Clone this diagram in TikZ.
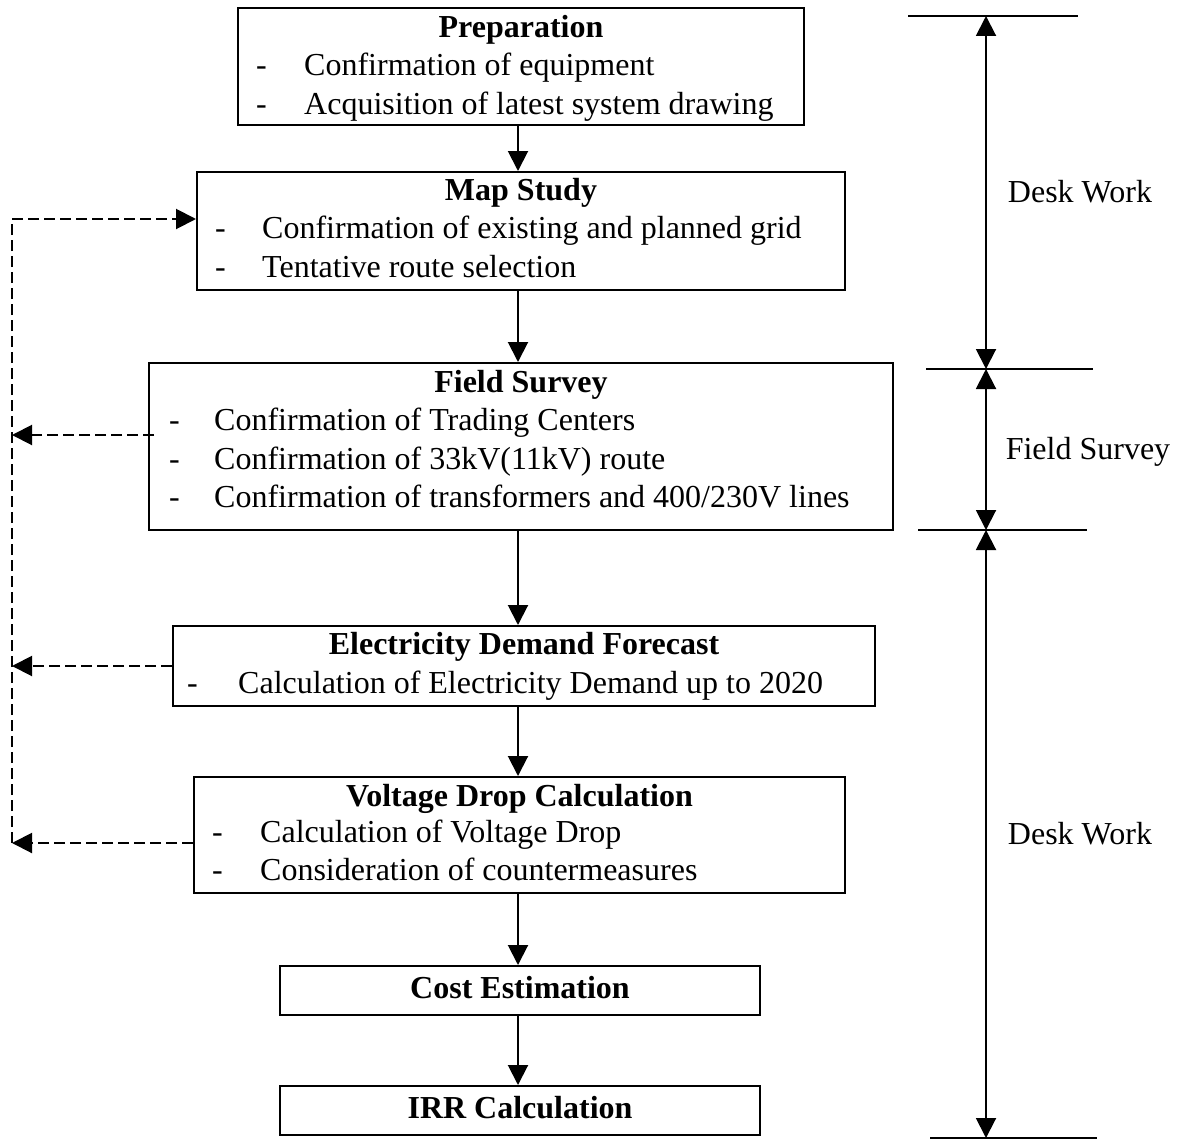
\documentclass[tikz,border=0pt]{standalone}
\usepackage{fontspec}
\setmainfont{Liberation Serif}
\usetikzlibrary{arrows.meta}
\tikzset{
  every node/.style={font=\fontsize{32}{38}\selectfont},
  box/.style={draw, line width=2pt, inner sep=0},
  head/.style={inner sep=0, anchor=base, font=\fontsize{32}{38}\selectfont\bfseries},
  txt/.style={inner sep=0, anchor=base west},
  flow/.style={line width=2pt, -{Triangle[length=20pt,width=20pt]}},
  fb/.style={line width=2pt, dash pattern=on 11pt off 5pt},
  fbarrow/.style={fb, -{Triangle[length=20pt,width=20pt]}},
  span/.style={line width=2pt, {Triangle[length=20pt,width=20pt]}-{Triangle[length=20pt,width=20pt]}},
  tick/.style={line width=2pt}
}

\begin{document}
\begin{tikzpicture}[x=1pt, y=-1pt]
  \useasboundingbox (0,0) rectangle (1183,1140);
  \coordinate (spine) at (518,0);
  % boxes
  \node[box, minimum width=566, minimum height=117] (prep) at (521,66.5) {};
  \node[box, minimum width=648, minimum height=118] (map) at (521,231) {};
  \node[box, minimum width=744, minimum height=167] (field) at (521,446.5) {};
  \node[box, minimum width=702, minimum height=80] (demand) at (524,666) {};
  \node[box, minimum width=651, minimum height=116] (volt) at (519.5,835) {};
  \node[box, minimum width=480, minimum height=49] (cost) at (520,990.5) {};
  \node[box, minimum width=480, minimum height=49] (irr) at (520,1110.5) {};
  % titles
  \node[head] (prep-title) at (prep.center |- 0,38) {Preparation};
  \node[head] (map-title) at (map.center |- 0,200) {Map Study};
  \node[head] (field-title) at (field.center |- 0,392) {Field Survey};
  \node[head] (demand-title) at (demand.center |- 0,654) {Electricity Demand Forecast};
  \node[head] (volt-title) at (volt.center |- 0,806) {Voltage Drop Calculation};
  \node[head] (cost-title) at (cost.center |- 0,998) {Cost Estimation};
  \node[head] (irr-title) at (irr.center |- 0,1118) {IRR Calculation};
  % items
  \foreach \n/\y/\t in {1/76/Confirmation of equipment, 2/114/Acquisition of latest system drawing} {
    \node[txt] (prep-d\n) at (256,\y) {-};
    \node[txt] (prep-\n) at (304,\y) {\t};
  }
  \foreach \n/\y/\t in {1/238/Confirmation of existing and planned grid, 2/277/Tentative route selection} {
    \node[txt] (map-d\n) at (215,\y) {-};
    \node[txt] (map-\n) at (262,\y) {\t};
  }
  \foreach \n/\y/\t in {1/430/Confirmation of Trading Centers, 2/469/Confirmation of 33kV(11kV) route,
      3/507/{Confirmation of transformers and 400/230V lines}} {
    \node[txt] (field-d\n) at (169,\y) {-};
    \node[txt] (field-\n) at (214,\y) {\t};
  }
  \node[txt] (demand-d1) at (187,693) {-};
  \node[txt] (demand-1) at (238,693) {Calculation of Electricity Demand up to 2020};
  \foreach \n/\y/\t in {1/842/Calculation of Voltage Drop, 2/880/Consideration of countermeasures} {
    \node[txt] (volt-d\n) at (212,\y) {-};
    \node[txt] (volt-\n) at (260,\y) {\t};
  }
  % main flow
  \draw[flow] (prep.south -| spine) -- (map.north -| spine);
  \draw[flow] (map.south -| spine) -- (field.north -| spine);
  \draw[flow] (field.south -| spine) -- (demand.north -| spine);
  \draw[flow] (demand.south -| spine) -- (volt.north -| spine);
  \draw[flow] (volt.south -| spine) -- (cost.north -| spine);
  \draw[flow] (cost.south -| spine) -- (irr.north -| spine);
  % feedback loop
  \coordinate (rail-top) at (12,219);
  \coordinate (rail-bot) at (12,843);
  \draw[fbarrow] (rail-bot) -- (rail-top) -- (rail-top -| map.west);
  \draw[fbarrow] ([xshift=6pt,yshift=11.5pt]field.west) coordinate (field-fb) -- (field-fb -| rail-top);
  \draw[fbarrow] (demand.west) -- (demand.west -| rail-top);
  \draw[fbarrow] ([yshift=-8pt]volt.west) coordinate (volt-fb) -- (volt-fb -| rail-top);
  % phases
  \coordinate (p0) at (986,16);
  \coordinate (p1) at (986,369);
  \coordinate (p2) at (986,530);
  \coordinate (p3) at (986,1138);
  \draw[tick] (908,16) -- (1078,16);
  \draw[tick] (926,369) -- (1093,369);
  \draw[tick] (918,530) -- (1087,530);
  \draw[tick] (930,1138) -- (1097,1138);
  \draw[span] (p0) -- (p1);
  \draw[span] (p1) -- (p2);
  \draw[span] (p2) -- (p3);
  \node (desk-a) at (1080,192) {Desk Work};
  \node (survey) at (1088,452) {Field Survey};
  \node (desk-b) at (1080,834) {Desk Work};
\end{tikzpicture}
\end{document}
